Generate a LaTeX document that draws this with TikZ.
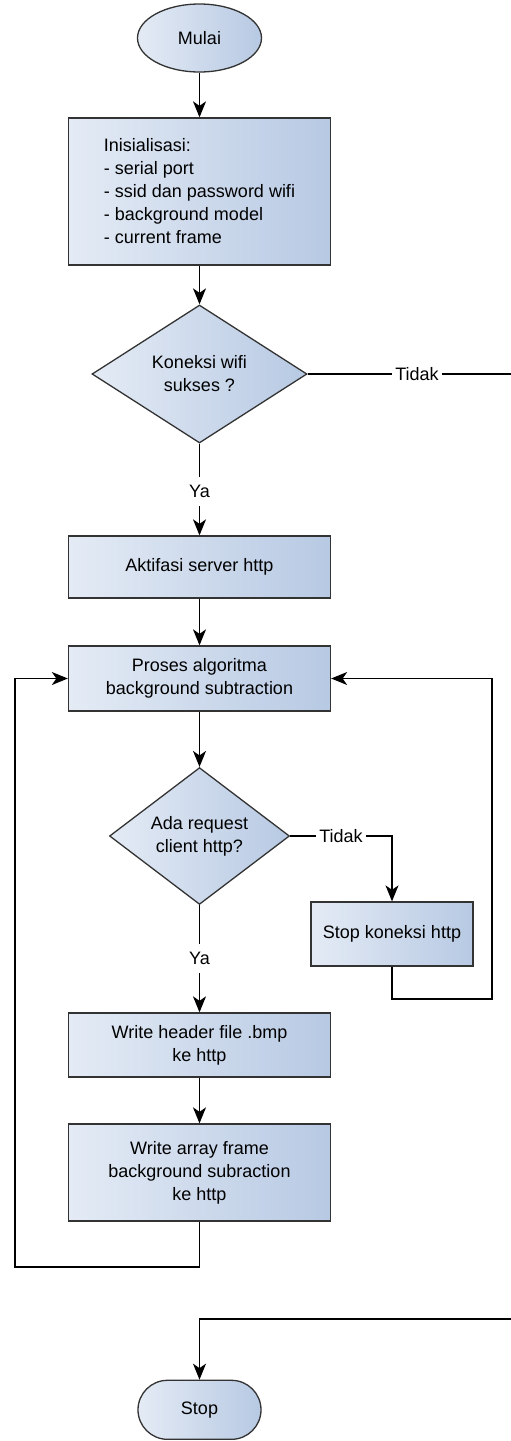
\documentclass[tikz,border=0pt]{standalone}
\usepackage{fontspec}
\setmainfont{Liberation Sans}
\usetikzlibrary{shapes.geometric,shapes.misc,arrows.meta}
\definecolor{fillL}{HTML}{E4EBF5}
\definecolor{fillR}{HTML}{B7C9E3}
\definecolor{edgec}{HTML}{333333}
\begin{document}
\begin{tikzpicture}[x=1pt,y=-1pt,
  base/.style={draw=edgec, line width=1.3pt, left color=fillL, right color=fillR,
    font=\fontsize{18}{23}\selectfont, inner sep=0pt},
  procbox/.style={base, rectangle, minimum width=262pt, align=center},
  decision/.style={base, diamond, align=center},
  conn/.style={line width=1.3pt, draw=black, -{Stealth[length=16pt,width=13pt,inset=4.5pt]}},
  lbl/.style={fill=white, inner xsep=3pt, inner ysep=8pt, font=\fontsize{18}{23}\selectfont}]
\useasboundingbox (0,0) rectangle (511,1441);

\node[base, ellipse, minimum width=124pt, minimum height=68pt] (mulai) at (199.5,38) {Mulai};
\node[procbox, align=left, minimum height=147pt] (init) at (199.5,191.5)
  {Inisialisasi:\\- serial port\\- ssid dan password wifi\\- background model\\- current frame};
\node[decision, minimum width=215pt, minimum height=138pt] (d1) at (199.5,374) {Koneksi wifi\\sukses ?};
\node[procbox, minimum height=62pt] (akt) at (199.5,567) {Aktifasi server http};
\node[procbox, minimum height=65pt] (proses) at (199.5,678.5) {Proses algoritma\\background subtraction};
\node[decision, minimum width=180pt, minimum height=132pt] (d2) at (199.5,836) {Ada request\\client http?};
\node[procbox, minimum width=162pt, minimum height=64pt] (stopk) at (392,934) {Stop koneksi http};
\node[procbox, minimum height=64pt] (wh) at (199.5,1045) {Write header file .bmp\\ke http};
\node[procbox, minimum height=97pt] (wa) at (199.5,1172.5) {Write array frame\\background subraction\\ke http};
\node[base, rounded rectangle, minimum width=123pt, minimum height=59pt] (stop) at (199.5,1409.8) {Stop};

\coordinate (r1) at (514,374);
\coordinate (r2) at (514,1319);
\coordinate (rloop) at (492,999);
\coordinate (lloop) at (15,1267);

\draw[conn] (mulai) -- (init);
\draw[conn] (init) -- (d1);
\draw[conn] (d1) -- node[lbl, pos=0.52] {Ya} (akt);
\draw[conn] (akt) -- (proses);
\draw[conn] (proses) -- (d2);
\draw[conn] (d2) -- node[lbl, pos=0.5] {Ya} (wh);
\draw[conn] (wh) -- (wa);
\draw[conn] (d2.east) -| node[lbl, pos=0.25] {Tidak} (stopk.north);
\draw[conn] (stopk.south) |- (rloop) |- (proses.east);
\draw[conn] (wa.south) |- (lloop) |- (proses.west);
\draw[conn] (d1.east) -- node[lbl, pos=0.53] {Tidak} (r1) -- (r2) -| (stop.north);
\end{tikzpicture}
\end{document}
